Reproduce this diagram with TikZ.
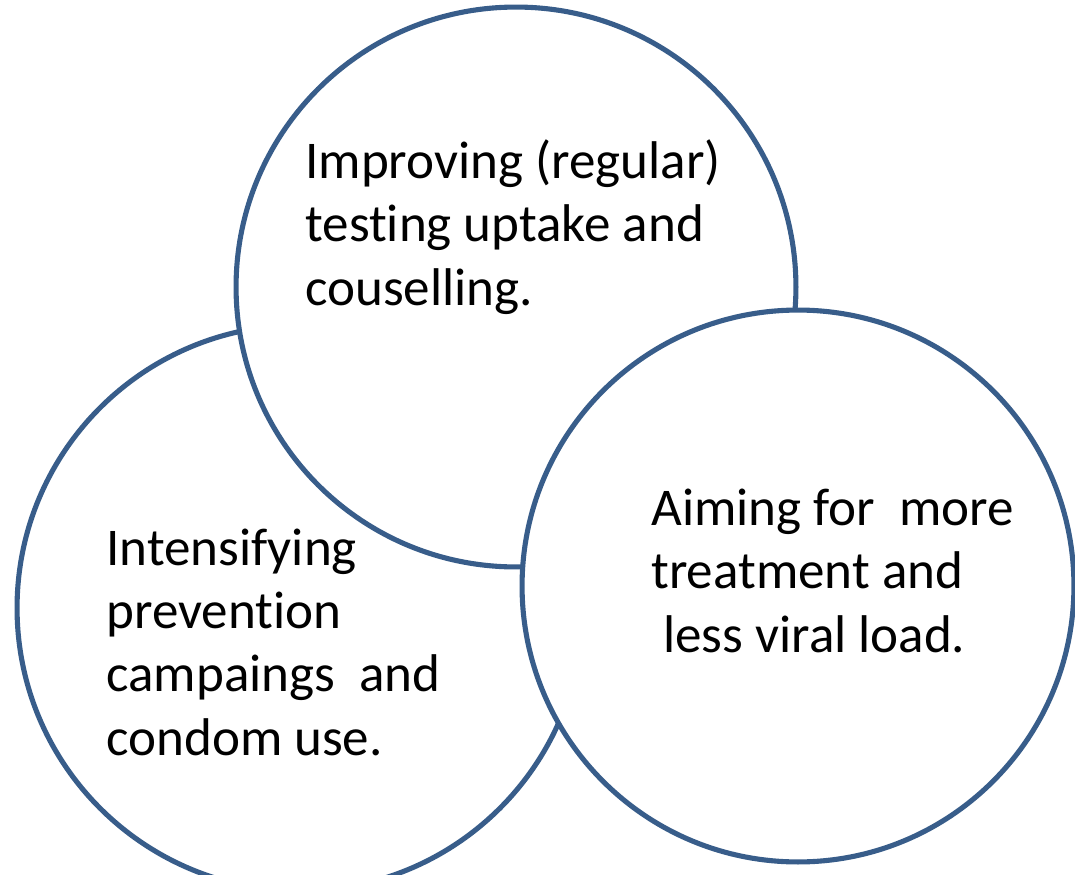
\documentclass[tikz,border=0pt]{standalone}
\usepackage{fontspec}
\setmainfont{Carlito}[RawFeature=-liga]
\definecolor{ringBlue}{HTML}{385D8A}
\begin{document}
\begin{tikzpicture}[x=0.02cm, y=-0.02cm,
    circleStyle/.style={circle, draw=ringBlue, line width=2.9pt, fill=white, inner sep=0pt},
    textStyle/.style={anchor=base west, align=left, inner sep=0pt, font=\fontsize{30.2}{36}\selectfont}]
    \useasboundingbox (0,0) rectangle (1075,875);
    % circles, back to front
    \node[circleStyle, minimum size=11.32cm] (left_C)  at (300, 608) {};
    \node[circleStyle, minimum size=11.2cm]  (top_C)   at (516, 287) {};
    \node[circleStyle, minimum size=11.04cm] (right_C) at (798, 586) {};
    % texts (anchored at the last line)
    \node[textStyle] (top_T)   at (305, 305) {Improving (regular)\\testing uptake and\\couselling.};
    \node[textStyle] (right_T) at (651, 652) {Aiming for\ \ more\\treatment and\\\ less viral load.};
    \node[textStyle] (left_T)  at (106, 755) {Intensifying\\prevention\\campaings\ \ and\\condom use.};
\end{tikzpicture}
\end{document}
